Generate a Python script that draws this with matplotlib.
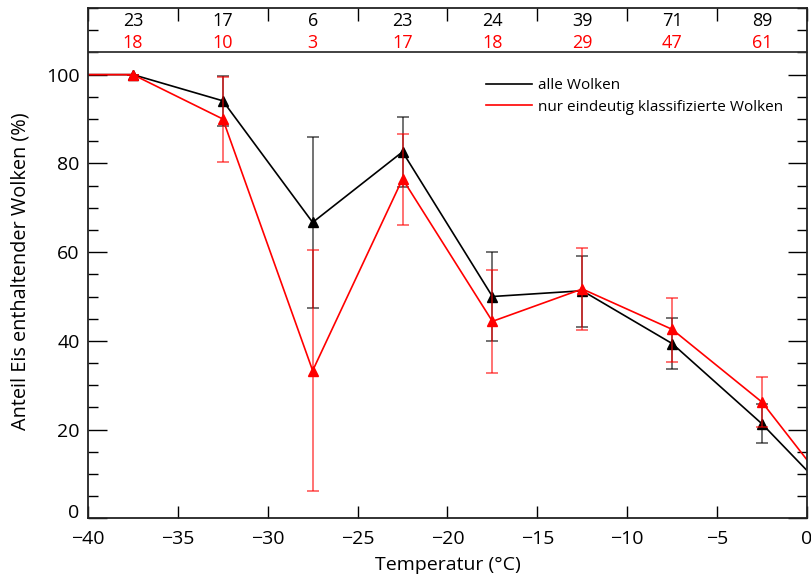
import matplotlib.pyplot as plt
import matplotlib.transforms as mtransforms
from matplotlib.ticker import MultipleLocator

plt.rcParams['font.family'] = ['Open Sans', 'DejaVu Sans']

# Temperaturklassen (Mitte), Anteil eishaltiger Wolken in %
temp = [-37.5, -32.5, -27.5, -22.5, -17.5, -12.5, -7.5, -2.5]
alle = [100.0, 94.1, 66.7, 82.6, 50.0, 51.3, 39.4, 21.3]
alle_lo = [100.0, 88.4, 47.4, 74.7, 39.9, 43.1, 33.6, 17.0]
alle_hi = [100.0, 99.6, 85.9, 90.4, 60.1, 59.2, 45.2, 25.7]
nur = [100.0, 90.0, 33.3, 76.5, 44.4, 51.7, 42.6, 26.2]
nur_lo = [100.0, 80.4, 6.1, 66.1, 32.7, 42.5, 35.3, 20.6]
nur_hi = [100.0, 99.5, 60.4, 86.7, 56.0, 61.0, 49.7, 31.8]
# Linienenden am Achsenrand
x_ends = [-40, 0]
alle_ends = [100.0, 10.8]
nur_ends = [100.0, 13.2]
# Anzahl Wolken pro Klasse
n_alle = [23, 17, 6, 23, 24, 39, 71, 89]
n_nur = [18, 10, 3, 17, 18, 29, 47, 61]

fig, ax = plt.subplots(figsize=(8.11, 5.76), dpi=100)
fig.subplots_adjust(left=0.1085, right=0.995, bottom=0.1, top=0.986)

for y, lo, hi, ends, col, lab in [(alle, alle_lo, alle_hi, alle_ends, "black", "alle Wolken"),
                                   (nur, nur_lo, nur_hi, nur_ends, "red", "nur eindeutig klassifizierte Wolken")]:
    xs = [x_ends[0]] + temp + [x_ends[1]]
    ys = [ends[0]] + y + [ends[1]]
    ax.plot(xs, ys, color=col, lw=1.2, label=lab)
    ax.errorbar(temp, y, yerr=[[v - l for v, l in zip(y, lo)], [h - v for v, h in zip(y, hi)]],
                fmt="none", ecolor=col, elinewidth=1.1, capsize=4, capthick=1.1, alpha=0.7)
    ax.plot(temp, y, "^", color=col, ms=7, lw=0)

for x, a, b in zip(temp, n_alle, n_nur):
    ax.text(x, 112, str(a), ha="center", va="center", fontsize=13, color="black")
    ax.text(x, 107.2, str(b), ha="center", va="center", fontsize=13, color="red")
ax.axhline(105, color="#333333", lw=1.3)

ax.set_xlim(-40, 0)
ax.set_ylim(0, 115)
ax.xaxis.set_major_locator(MultipleLocator(5))
ax.set_yticks([0, 20, 40, 60, 80, 100])
ax.yaxis.set_minor_locator(MultipleLocator(5))
ax.tick_params(which="both", direction="in", top=True, right=True, labelsize=14)
ax.tick_params(axis="x", which="major", length=9, width=1, pad=8)
ax.tick_params(axis="y", which="major", length=14, width=1, pad=6)
ax.tick_params(axis="y", which="minor", length=7, width=1)
for s in ax.spines.values():
    s.set_linewidth(1.3)
    s.set_color("#222222")

# die Null an der y-Achse sitzt etwas hoeher
fig.canvas.draw()
lab0 = ax.get_yticklabels()[0]
lab0.set_transform(lab0.get_transform() + mtransforms.ScaledTranslation(0, 7 / 100, fig.dpi_scale_trans))

ax.set_xlabel("Temperatur (°C)", fontsize=14, labelpad=6)
ax.set_ylabel("Anteil Eis enthaltender Wolken (%)", fontsize=14.3)
ax.yaxis.set_label_coords(-0.08, 0.484)

ax.legend(loc="upper right", bbox_to_anchor=(0.986, 0.89), frameon=False, fontsize=11,
          handlelength=3.0, handletextpad=0.4, labelspacing=0.45)

plt.savefig("out.png", dpi=100)
